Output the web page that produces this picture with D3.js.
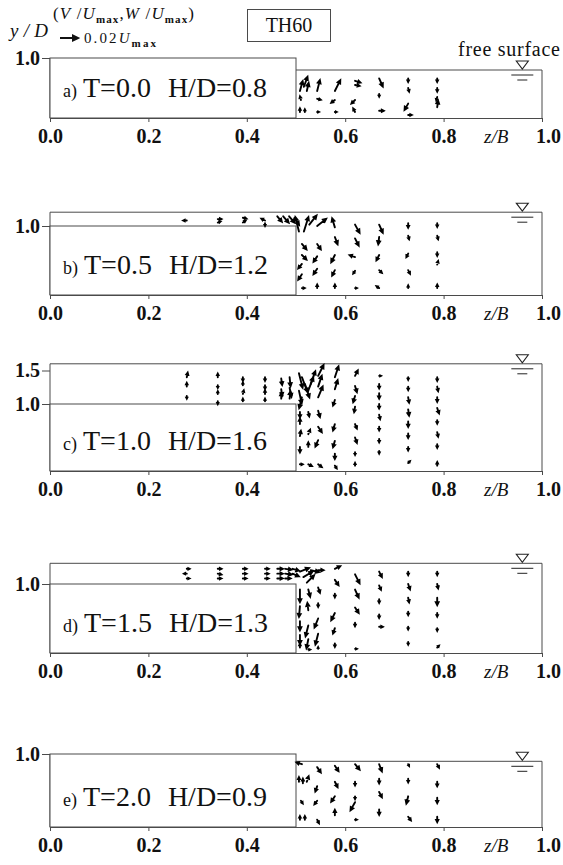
<!DOCTYPE html>
<html><head><meta charset="utf-8">
<script src="https://cdn.jsdelivr.net/npm/d3@7"></script>
<style>
body{margin:0;background:#fff;}
svg{display:block;background:#fff;}
svg text{font-family:"Liberation Serif","DejaVu Serif",serif !important;fill:#111;}
</style></head>
<body><svg id="chart" width="563" height="865"></svg>
<script>
// ---------------- data ----------------
const panelIds = ["a)", "b)", "c)", "d)", "e)"];
const times = [0.0, 0.5, 1.0, 1.5, 2.0];
const depths = [0.8, 1.2, 1.6, 1.3, 0.9];          // H/D (free-surface level)
const yTicksByPanel = [[1.0], [1.0], [1.0, 1.5], [1.0], [1.0]];
const xTicks = [0.0, 0.2, 0.4, 0.6, 0.8, 1.0];
const stepWidth = 0.5;   // z/B of step edge
const stepHeight = 1.0;  // y/D of step top
const refVector = 0.02;  // legend arrow, in Umax
const caseName = "TH60";

// vectors: [z/B, y/D, W/Umax, V/Umax]
const vecA = [
 [0.508,0.45,0.003,0.011],[0.516,0.52,0.004,0.011],[0.522,0.45,0.002,0.009],
 [0.510,0.30,-0.001,0.004],[0.508,0.10,0.000,0.004],[0.518,0.10,0.000,0.003],
 [0.543,0.45,0.003,0.012],[0.543,0.32,0.004,-0.001],[0.543,0.10,0.002,0.000],
 [0.579,0.45,0.006,0.012],[0.579,0.30,-0.004,-0.003],[0.579,0.10,0.002,0.000],
 [0.620,0.62,0.006,-0.002],[0.620,0.55,0.005,-0.001],[0.620,0.30,-0.004,-0.004],[0.620,0.10,-0.002,0.004],
 [0.669,0.66,0.004,-0.009],[0.669,0.40,0.000,-0.003],[0.669,0.12,0.005,0.000],
 [0.728,0.66,0.000,-0.004],[0.728,0.50,0.001,-0.004],[0.728,0.24,-0.004,-0.007],[0.728,0.05,0.004,0.000],
 [0.787,0.66,0.000,-0.004],[0.787,0.50,0.000,-0.004],[0.787,0.35,-0.001,-0.004],[0.787,0.18,0.001,0.007]
];
const vecB = [
 [0.278,1.08,-0.004,0.000],[0.341,1.10,0.004,0.000],[0.341,1.05,0.003,0.001],
 [0.392,1.12,0.004,-0.001],[0.392,1.05,0.003,0.002],[0.437,1.08,-0.004,0.002],[0.437,1.04,0.000,-0.003],
 [0.462,1.14,0.005,-0.006],[0.474,1.14,0.006,-0.007],[0.486,1.14,0.006,-0.007],[0.497,1.12,0.005,-0.008],
 [0.506,0.92,-0.004,0.016],[0.516,0.92,0.005,0.016],[0.527,1.02,0.008,0.010],
 [0.512,0.74,0.005,-0.006],[0.512,0.58,0.005,-0.005],[0.512,0.45,-0.004,-0.005],[0.512,0.30,-0.004,-0.006],[0.512,0.10,0.003,0.000],
 [0.543,1.00,0.010,0.008],[0.543,0.74,0.004,-0.006],[0.543,0.56,-0.004,-0.006],[0.543,0.38,-0.004,-0.006],[0.543,0.10,0.000,0.004],
 [0.579,0.98,-0.003,0.010],[0.579,0.84,0.003,-0.008],[0.579,0.58,-0.004,-0.008],[0.579,0.36,-0.003,-0.006],[0.579,0.10,0.000,0.004],
 [0.620,1.02,0.005,-0.009],[0.620,0.82,0.004,-0.008],[0.620,0.55,-0.006,0.002],[0.620,0.35,-0.002,-0.003],[0.620,0.10,0.002,0.000],
 [0.669,1.02,0.004,-0.009],[0.669,0.84,-0.001,-0.008],[0.669,0.58,-0.003,-0.006],[0.669,0.36,0.003,-0.003],[0.669,0.10,-0.003,0.002],
 [0.728,1.04,0.000,-0.005],[0.728,0.86,0.001,-0.004],[0.728,0.60,-0.002,-0.004],[0.728,0.36,0.002,-0.004],[0.728,0.10,0.000,0.003],
 [0.787,1.04,0.000,-0.004],[0.787,0.86,0.001,-0.004],[0.787,0.62,0.000,-0.004],[0.787,0.44,0.001,0.004],[0.787,0.10,0.000,0.004]
];
const vecC = [
 [0.278,1.40,0.001,0.005],[0.278,1.26,0.000,0.004],[0.278,1.12,0.000,-0.003],
 [0.341,1.40,0.000,0.004],[0.341,1.28,0.000,-0.003],[0.341,1.15,0.000,0.003],[0.341,1.04,0.000,-0.003],
 [0.392,1.40,0.000,-0.004],[0.392,1.28,0.000,0.003],[0.392,1.15,0.001,0.004],[0.392,1.04,0.000,0.003],
 [0.437,1.40,0.000,-0.004],[0.437,1.28,0.000,-0.004],[0.437,1.15,0.000,0.004],[0.437,1.04,0.000,0.003],
 [0.470,1.38,0.001,-0.007],[0.470,1.22,0.001,-0.007],[0.470,1.08,0.000,0.006],
 [0.487,1.40,0.001,-0.010],[0.487,1.24,0.002,-0.010],[0.487,1.08,0.001,0.008],
 [0.506,1.46,0.004,-0.016],[0.512,1.40,0.006,-0.016],[0.518,1.30,0.005,-0.015],[0.506,1.20,0.003,-0.014],[0.512,1.10,-0.003,-0.012],
 [0.524,1.18,0.006,0.016],[0.530,1.30,0.005,0.014],
 [0.508,0.88,0.000,-0.006],[0.508,0.70,0.000,0.006],[0.508,0.52,0.001,0.006],[0.508,0.36,0.000,-0.006],[0.508,0.10,0.003,0.000],
 [0.525,0.88,0.001,-0.005],[0.525,0.55,0.002,0.005],[0.525,0.36,0.000,0.005],[0.525,0.10,0.004,-0.002],
 [0.545,1.42,0.006,0.012],[0.545,1.26,0.004,0.012],[0.545,1.10,0.005,0.012],[0.545,0.90,0.002,-0.007],[0.545,0.66,0.004,-0.006],[0.545,0.46,-0.003,-0.007],[0.545,0.10,0.004,-0.003],
 [0.579,1.40,0.004,0.012],[0.579,1.22,0.003,0.010],[0.579,1.06,-0.002,-0.006],[0.579,0.70,-0.002,-0.007],[0.579,0.45,-0.002,-0.007],[0.579,0.26,0.000,-0.006],[0.579,0.08,0.002,-0.003],
 [0.620,1.42,0.003,0.006],[0.620,1.27,0.002,-0.007],[0.620,1.12,-0.002,-0.007],[0.620,0.96,-0.001,-0.006],[0.620,0.70,0.002,-0.005],[0.620,0.50,0.002,-0.006],[0.620,0.28,0.000,-0.003],[0.620,0.08,0.000,0.003],
 [0.669,1.42,0.002,0.000],[0.669,1.30,0.000,-0.005],[0.669,1.16,0.000,-0.006],[0.669,1.00,0.000,-0.005],[0.669,0.84,0.001,-0.005],[0.669,0.66,0.000,-0.004],[0.669,0.48,0.000,-0.004],[0.669,0.30,0.000,-0.003],
 [0.728,1.40,0.000,-0.003],[0.728,1.26,0.000,-0.004],[0.728,1.10,0.001,-0.006],[0.728,0.92,0.001,-0.007],[0.728,0.74,0.000,-0.006],[0.728,0.56,0.000,-0.005],[0.728,0.36,0.000,-0.004],[0.728,0.12,0.002,0.002],
 [0.787,1.40,0.000,-0.004],[0.787,1.26,0.001,-0.005],[0.787,1.10,0.000,-0.005],[0.787,0.94,0.002,-0.006],[0.787,0.76,0.000,-0.004],[0.787,0.58,0.001,-0.005],[0.787,0.40,0.000,-0.004],[0.787,0.08,0.000,0.004]
];
const vecD = [
 [0.278,1.22,0.003,0.000],[0.278,1.15,-0.003,0.000],[0.278,1.08,0.003,0.000],
 [0.341,1.22,0.004,0.000],[0.341,1.15,0.004,-0.001],[0.341,1.08,0.004,0.000],
 [0.392,1.22,0.004,0.000],[0.392,1.15,0.004,0.000],[0.392,1.08,0.004,0.000],
 [0.437,1.22,0.004,0.000],[0.437,1.15,0.004,0.000],[0.437,1.08,0.004,0.000],
 [0.462,1.22,0.006,0.000],[0.462,1.15,0.006,0.000],[0.462,1.08,0.006,0.000],
 [0.478,1.22,0.007,-0.001],[0.478,1.15,0.007,-0.001],[0.478,1.08,0.006,0.000],
 [0.493,1.22,0.007,-0.002],[0.493,1.15,0.007,-0.003],
 [0.508,1.18,0.010,0.004],[0.515,1.10,0.010,0.006],[0.522,1.02,0.008,0.008],[0.530,1.20,0.009,-0.002],
 [0.508,0.92,0.000,-0.014],[0.508,0.68,-0.001,-0.012],[0.508,0.46,0.000,-0.010],[0.508,0.26,0.000,-0.010],[0.508,0.08,0.000,0.004],
 [0.525,0.92,0.002,-0.008],[0.525,0.62,-0.001,0.008],[0.525,0.40,-0.003,-0.012],[0.525,0.20,-0.002,-0.010],[0.525,0.05,0.002,0.000],
 [0.545,1.20,0.006,0.000],[0.545,0.95,0.002,-0.006],[0.545,0.72,0.000,-0.004],[0.545,0.50,-0.004,-0.010],[0.545,0.28,-0.003,-0.012],[0.545,0.06,0.000,0.002],
 [0.579,1.22,0.006,0.003],[0.579,1.06,0.004,-0.006],[0.579,0.86,0.000,-0.004],[0.579,0.58,-0.004,-0.008],[0.579,0.36,-0.002,-0.006],[0.579,0.14,0.000,-0.004],
 [0.620,1.14,0.005,-0.010],[0.620,0.92,0.004,-0.009],[0.620,0.66,0.004,-0.006],[0.620,0.44,0.000,-0.004],[0.620,0.06,0.002,0.000],
 [0.669,1.18,0.003,-0.006],[0.669,0.98,0.002,-0.005],[0.669,0.78,0.000,-0.004],[0.669,0.56,0.000,-0.004],[0.669,0.38,0.004,0.000],
 [0.728,1.18,0.000,-0.004],[0.728,1.00,0.002,-0.006],[0.728,0.80,0.001,-0.005],[0.728,0.60,0.000,-0.004],[0.728,0.38,0.000,-0.003],[0.728,0.16,0.000,-0.003],
 [0.787,1.18,0.000,-0.004],[0.787,1.00,0.001,-0.005],[0.787,0.80,0.000,-0.008],[0.787,0.58,0.000,-0.004],[0.787,0.36,0.000,-0.003],[0.787,0.08,0.002,0.002]
];
const vecE = [
 [0.512,0.86,-0.006,0.002],[0.506,0.62,0.000,0.005],[0.514,0.60,0.000,0.005],[0.522,0.62,0.002,0.006],[0.510,0.36,0.002,-0.003],[0.508,0.10,0.000,0.004],[0.518,0.10,0.000,0.004],
 [0.543,0.82,0.004,-0.006],[0.543,0.56,-0.002,-0.006],[0.543,0.36,-0.003,-0.004],[0.543,0.10,0.002,-0.004],
 [0.579,0.84,0.004,-0.006],[0.579,0.62,0.003,-0.006],[0.579,0.42,-0.004,-0.006],[0.579,0.16,0.000,0.006],
 [0.620,0.86,0.005,-0.006],[0.620,0.62,0.000,-0.004],[0.620,0.42,0.000,-0.003],[0.620,0.34,-0.005,-0.009],[0.620,0.10,0.002,0.000],
 [0.669,0.86,0.003,-0.008],[0.669,0.66,0.000,-0.005],[0.669,0.48,0.003,-0.006],[0.669,0.24,0.000,-0.006],
 [0.728,0.86,0.001,-0.002],[0.728,0.66,0.000,-0.004],[0.728,0.42,-0.002,-0.008],[0.728,0.14,0.003,-0.004],
 [0.787,0.86,0.002,-0.004],[0.787,0.62,0.000,-0.005],[0.787,0.40,0.000,-0.006],[0.787,0.14,0.000,-0.006]
];
const vectorSets = [vecA, vecB, vecC, vecD, vecE];

// ---------------- layout (pixels) ----------------
const panelBottoms = [118, 295, 471, 653, 827];
const panelUnits = [60, 69, 67, 69, 73];   // pixels per y/D
const lineColor = "#4a4a4a";

const svg = d3.select("#chart");
const xs = d3.scaleLinear().domain([0, 1]).range([50, 542]);
const vs = d3.scaleLinear().domain([0, refVector]).range([0, 18]);

function arrowPath(x0, y0, dx, dy, big) {
  const L = Math.hypot(dx, dy);
  if (L < 0.3) return "";
  const ux = dx / L, uy = dy / L;
  const hl = big ? 5 : Math.min(3, L * 0.4), hw = big ? 2.5 : Math.min(1.4, hl * 0.5);
  const tx = x0 + dx, ty = y0 + dy;
  const bx = tx - ux * hl, by = ty - uy * hl;
  const px = -uy * hw, py = ux * hw;
  return `M${x0},${y0}L${bx},${by}M${tx},${ty}L${bx + px},${by + py}L${bx - px},${by - py}Z`;
}

// ---------------- header ----------------
svg.append("text").attr("x", 10).attr("y", 37).attr("font-size", 19).attr("font-style", "italic")
  .attr("textLength", 38).text("y / D");

const hdr = svg.append("text").attr("x", 53).attr("y", 19).attr("font-size", 17)
  .attr("textLength", 141).attr("lengthAdjust", "spacing");
hdr.append("tspan").text("(");
hdr.append("tspan").attr("font-style", "italic").text("V");
hdr.append("tspan").text(" /");
hdr.append("tspan").attr("font-style", "italic").text("U");
hdr.append("tspan").attr("font-size", 11).attr("font-weight", "bold").attr("dy", 4).text("max");
hdr.append("tspan").attr("dy", -4).text(",");
hdr.append("tspan").attr("font-style", "italic").text("W");
hdr.append("tspan").text(" /");
hdr.append("tspan").attr("font-style", "italic").text("U");
hdr.append("tspan").attr("font-size", 11).attr("font-weight", "bold").attr("dy", 4).text("max");
hdr.append("tspan").attr("dy", -4).text(")");

svg.append("path").attr("d", arrowPath(60, 38, vs(refVector), 0, true))
  .attr("stroke", "#111").attr("stroke-width", 2).attr("fill", "#111");
const leg = svg.append("text").attr("x", 84).attr("y", 43).attr("font-size", 15)
  .attr("textLength", 72).attr("lengthAdjust", "spacing");
leg.append("tspan").text(refVector.toFixed(2));
leg.append("tspan").attr("font-style", "italic").text("U");
leg.append("tspan").attr("font-size", 11).attr("font-weight", "bold").attr("dy", 4).text("max");

svg.append("rect").attr("x", 247.5).attr("y", 9.5).attr("width", 83).attr("height", 32)
  .attr("fill", "none").attr("stroke", lineColor);
svg.append("text").attr("x", 289).attr("y", 32).attr("font-size", 20).attr("text-anchor", "middle").text(caseName);

svg.append("text").attr("x", 458).attr("y", 56).attr("font-size", 20)
  .attr("textLength", 102).text("free surface");

// ---------------- panels ----------------
depths.forEach((H, i) => {
  const b = panelBottoms[i], u = panelUnits[i];
  const ys = d3.scaleLinear().domain([0, 1]).range([b, b - u]);
  const g = svg.append("g");
  const top = Math.max(stepHeight, H);

  const ln = (x1, y1, x2, y2) => g.append("line")
    .attr("x1", x1).attr("y1", y1).attr("x2", x2).attr("y2", y2)
    .attr("stroke", lineColor).attr("stroke-width", 1);

  ln(xs(0), ys(0), xs(0), ys(top));
  g.append("rect").attr("x", xs(0)).attr("y", ys(stepHeight))
    .attr("width", xs(stepWidth) - xs(0)).attr("height", ys(0) - ys(stepHeight))
    .attr("fill", "#fff").attr("stroke", lineColor).attr("stroke-width", 1);
  ln(H > stepHeight ? xs(0) : xs(stepWidth), ys(H), xs(1), ys(H));
  ln(xs(1), ys(0), xs(1), ys(H));

  const xa = g.append("g").attr("transform", `translate(0,${ys(0)})`)
    .call(d3.axisBottom(xs).tickValues(xTicks).tickSize(4).tickSizeOuter(0).tickPadding(7)
      .tickFormat(d3.format(".1f")));
  xa.select(".domain").attr("stroke", lineColor);
  xa.selectAll(".tick line").attr("stroke", lineColor);
  xa.selectAll(".tick text").attr("font-size", 20).attr("font-weight", "bold")
    .attr("dx", d => d === 1 ? 6 : 0);
  g.append("text").attr("x", xs(0.907)).attr("y", ys(0) + 25).attr("font-size", 19)
    .attr("font-style", "italic").attr("text-anchor", "middle").text("z/B");

  const ya = g.append("g").attr("transform", `translate(${xs(0)},0)`)
    .call(d3.axisLeft(ys).tickValues(yTicksByPanel[i]).tickSize(8).tickPadding(2)
      .tickFormat(d3.format(".1f")));
  ya.select(".domain").remove();
  ya.selectAll(".tick line").attr("stroke", lineColor);
  ya.selectAll(".tick text").attr("font-size", 20).attr("font-weight", "bold");

  const sx = xs(0.96), sy = ys(H);
  g.append("path").attr("d", `M${sx - 6},${sy - 9}L${sx + 6},${sy - 9}L${sx},${sy - 1}Z`)
    .attr("fill", "none").attr("stroke", "#222").attr("stroke-width", 1.1);
  ln(sx - 11, sy + 5, sx + 11, sy + 5).attr("stroke", "#222");
  ln(sx - 5, sy + 10, sx + 5, sy + 10).attr("stroke", "#222");

  const lab = g.append("text").attr("x", xs(0) + 13).attr("y", ys(0) - 21).attr("font-size", 28);
  lab.append("tspan").attr("font-size", 18).text(panelIds[i]);
  lab.append("tspan").attr("dx", 6).text("T=" + times[i].toFixed(1));
  lab.append("tspan").attr("dx", 17).text("H/D=" + H.toFixed(1));

  g.append("g").selectAll("path").data(vectorSets[i]).join("path")
    .attr("d", d => arrowPath(xs(d[0]), ys(d[1]), vs(d[2]), -vs(d[3]), false))
    .attr("stroke", "#000").attr("stroke-width", 1.9).attr("fill", "#000")
    .attr("stroke-linecap", "round");
});
</script></body></html>
